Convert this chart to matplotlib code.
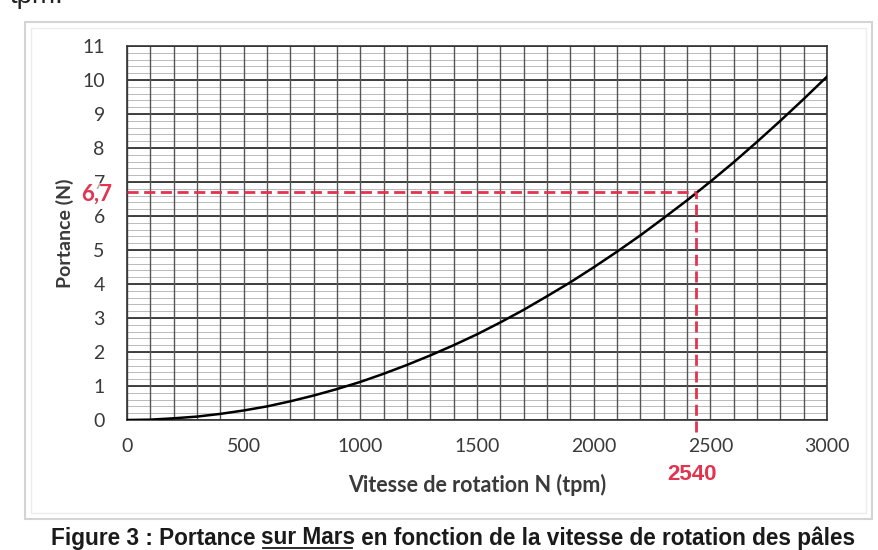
import matplotlib
matplotlib.use("Agg")
import matplotlib.pyplot as plt
from matplotlib.patches import Rectangle
from matplotlib.lines import Line2D
from matplotlib import font_manager
import numpy as np

# valeurs (tous les 100 tpm)
vitesse = [0, 100, 200, 300, 400, 500, 600, 700, 800, 900,
           1000, 1100, 1200, 1300, 1400, 1500, 1600, 1700, 1800, 1900,
           2000, 2100, 2200, 2300, 2400, 2500, 2600, 2700, 2800, 2900, 3000]
portance = [0.0, 0.01, 0.05, 0.10, 0.18, 0.28, 0.40, 0.55, 0.72, 0.91,
            1.12, 1.36, 1.62, 1.90, 2.20, 2.52, 2.87, 3.24, 3.64, 4.05,
            4.49, 4.95, 5.43, 5.94, 6.46, 7.01, 7.58, 8.18, 8.80, 9.44, 10.10]

x_ticks = [0, 500, 1000, 1500, 2000, 2500, 3000]
y_ticks = [0, 1, 2, 3, 4, 5, 6, 7, 8, 9, 10, 11]

# point lu (trait rouge)
N_lu = 2440
P_lu = 6.7
N_lu_txt = "2540"
P_lu_txt = "6,7"

caption_a = "Figure 3 : Portance "
caption_b = "sur Mars"
caption_c = " en fonction de la vitesse de rotation des pâles"

names = set(f.name for f in font_manager.fontManager.ttflist)
tick_font = "Lato" if "Lato" in names else "DejaVu Sans"
cap_font = "Liberation Sans"

W, H = 879, 550
fig = plt.figure(figsize=(W / 100, H / 100), dpi=100)
fig.patch.set_facecolor("white")

# cadre gris clair autour du graphe
fig.patches.append(Rectangle((25 / W, 1 - 519 / H), (872 - 25) / W, (519 - 22) / H,
                             transform=fig.transFigure, fill=False,
                             edgecolor="#d4d4d4", lw=1.5))
fig.patches.append(Rectangle((31 / W, 1 - 513 / H), (866 - 31) / W, (513 - 28) / H,
                             transform=fig.transFigure, fill=False,
                             edgecolor="#ededed", lw=1.0))

ax = fig.add_axes([127 / W, 1 - 420 / H, 700 / W, 374 / H])
ax.set_xlim(0, 3000)
ax.set_ylim(0, 11)

# quadrillage papier millimetre
for yv in np.arange(0, 11.01, 0.2):
    ax.axhline(yv, color="#b0b0b0", lw=0.6, zorder=1)
for yv in y_ticks:
    ax.axhline(yv, color="#333333", lw=1.3, zorder=2)
for xv in range(0, 3001, 100):
    ax.axvline(xv, color="#555555", lw=1.0, zorder=2)

ax.plot(vitesse, portance, color="black", lw=1.8, zorder=4)

red = "#e2334f"
ax.plot([0, N_lu], [P_lu, P_lu], color=red, lw=2.0, ls=(0, (4, 2)), zorder=5)
ax.add_line(Line2D([N_lu, N_lu], [-0.35, P_lu], color=red, lw=2.0,
                   ls=(0, (4, 2)), zorder=5, clip_on=False))

for s in ax.spines.values():
    s.set_color("#333333")
    s.set_linewidth(1.2)

ax.set_xticks(x_ticks)
ax.set_yticks(y_ticks)
ax.set_xticklabels([str(v) for v in x_ticks])
ax.set_yticklabels([str(v) for v in y_ticks])
ax.tick_params(length=0, labelsize=14, colors="#3a3a3a")
ax.tick_params(axis="x", pad=13)
ax.tick_params(axis="y", pad=16)
for lab in ax.get_xticklabels() + ax.get_yticklabels():
    lab.set_fontfamily(tick_font)

ax.set_xlabel("Vitesse de rotation N (tpm)", fontsize=15.5, fontweight="bold",
              family=tick_font, color="#3a3a3a", va="center")
ax.xaxis.set_label_coords((477 - 127) / 700, (420 - 485) / 374)
ax.set_ylabel("Portance (N)", fontsize=14, fontweight="bold",
              family=tick_font, color="#3a3a3a", va="center")
ax.yaxis.set_label_coords((65 - 127) / 700, (420 - 233) / 374)

fig.text(112 / W, 1 - 194 / H, P_lu_txt, color=red, fontsize=16, fontweight="bold",
         family=tick_font, ha="right", va="center",
         bbox=dict(facecolor="white", edgecolor="none", pad=0.5, alpha=0.6))
fig.text(692 / W, 1 - 475 / H, N_lu_txt, color=red, fontsize=16,
         fontweight="bold", family="Liberation Sans", ha="center", va="center")

# texte coupe en haut
fig.text(10 / W, 1 - 3 / H, "tpm.", fontsize=20, family="Liberation Sans",
         color="#222222", va="baseline", ha="left")

# legende de la figure, "sur Mars" souligne
cap_kw = dict(fontsize=16.3, fontweight="bold", family=cap_font, color="#1a1a1a",
              va="center", ha="left")
y_cap = 1 - 538 / H
ta = fig.text(0, y_cap, caption_a, **cap_kw)
tb = fig.text(0, y_cap, caption_b, **cap_kw)
tc = fig.text(0, y_cap, caption_c, **cap_kw)
fig.canvas.draw()
r = fig.canvas.get_renderer()
wa = ta.get_window_extent(r).width
wb = tb.get_window_extent(r).width
wc = tc.get_window_extent(r).width
x0 = 453 - (wa + wb + wc) / 2
ta.set_x(x0 / W)
tb.set_x((x0 + wa) / W)
tc.set_x((x0 + wa + wb) / W)
bb = tb.get_window_extent(r)
fig.add_artist(Line2D([(x0 + wa + 2) / W, (x0 + wa + wb - 3) / W],
                      [(bb.y0 + 2) / H, (bb.y0 + 2) / H],
                      transform=fig.transFigure, color="#1a1a1a", lw=1.3))

fig.savefig("out.png", dpi=100)
